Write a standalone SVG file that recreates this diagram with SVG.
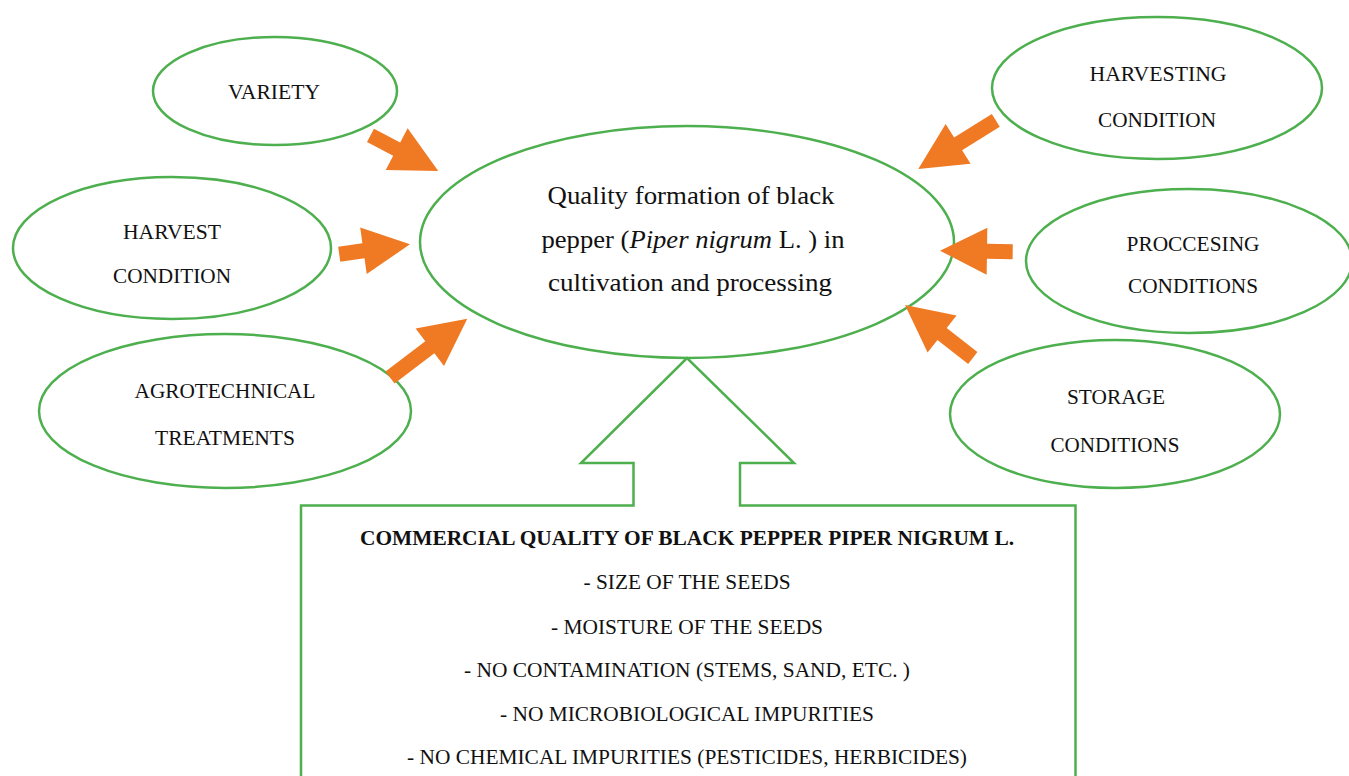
<svg xmlns="http://www.w3.org/2000/svg" width="1349" height="776" viewBox="0 0 1349 776" font-family="'Liberation Serif', 'Times New Roman', Times, serif">
<style>
.node{fill:#ffffff;stroke:#4DAF4E;stroke-width:2.5}
.lbl{font-family:'Liberation Serif', 'Times New Roman', Times, serif;font-size:21px;fill:#111111;text-anchor:middle}
.main{font-family:'Liberation Serif', 'Times New Roman', Times, serif;font-size:26px;fill:#111111;text-anchor:middle}
.bold{font-weight:bold}
.arr{fill:#F07A24;stroke:none}
</style>
<rect width="1349" height="776" fill="#ffffff"/>

<g id="variety">
<ellipse class="node" cx="275" cy="91" rx="122" ry="54"/>
<text class="lbl" x="274" y="99" textLength="92" lengthAdjust="spacingAndGlyphs">VARIETY</text>
</g>
<g id="harvest-condition">
<ellipse class="node" cx="172" cy="248" rx="159" ry="71"/>
<text class="lbl" x="172" y="239" textLength="98" lengthAdjust="spacingAndGlyphs">HARVEST</text>
<text class="lbl" x="172" y="283" textLength="118" lengthAdjust="spacingAndGlyphs">CONDITION</text>
</g>
<g id="agrotechnical">
<ellipse class="node" cx="225" cy="411" rx="186" ry="77"/>
<text class="lbl" x="225" y="398" textLength="181" lengthAdjust="spacingAndGlyphs">AGROTECHNICAL</text>
<text class="lbl" x="225" y="445" textLength="140" lengthAdjust="spacingAndGlyphs">TREATMENTS</text>
</g>
<g id="harvesting-condition">
<ellipse class="node" cx="1157" cy="88" rx="165" ry="71"/>
<text class="lbl" x="1158" y="81" textLength="137" lengthAdjust="spacingAndGlyphs">HARVESTING</text>
<text class="lbl" x="1157" y="127" textLength="118" lengthAdjust="spacingAndGlyphs">CONDITION</text>
</g>
<g id="processing-conditions">
<ellipse class="node" cx="1189" cy="261" rx="163" ry="72"/>
<text class="lbl" x="1193" y="251" textLength="133" lengthAdjust="spacingAndGlyphs">PROCCESING</text>
<text class="lbl" x="1193" y="293" textLength="130" lengthAdjust="spacingAndGlyphs">CONDITIONS</text>
</g>
<g id="storage-conditions">
<ellipse class="node" cx="1115" cy="414" rx="165" ry="74"/>
<text class="lbl" x="1116" y="404" textLength="98" lengthAdjust="spacingAndGlyphs">STORAGE</text>
<text class="lbl" x="1115" y="452" textLength="129" lengthAdjust="spacingAndGlyphs">CONDITIONS</text>
</g>
<g id="quality-formation">
<ellipse class="node" cx="687" cy="242" rx="267" ry="116"/>
<text class="main" x="691" y="204" textLength="287" lengthAdjust="spacingAndGlyphs">Quality formation of black</text>
<text class="main" x="693" y="248" textLength="303" lengthAdjust="spacingAndGlyphs">pepper (<tspan font-style="italic">Piper nigrum</tspan> L. ) in</text>
<text class="main" x="690" y="291" textLength="284" lengthAdjust="spacingAndGlyphs">cultivation and processing</text>
</g>
<g id="commercial-quality">
<path class="node" d="M301,780 L301,505.5 L633.5,505.5 L633.5,463 L581,463 L687,358 L794,463 L740,463 L740,505.5 L1075.5,505.5 L1075.5,780"/>
<text class="lbl bold" x="687" y="545" textLength="654" lengthAdjust="spacingAndGlyphs">COMMERCIAL QUALITY OF BLACK PEPPER PIPER NIGRUM L.</text>
<text class="lbl" x="687" y="589" textLength="207" lengthAdjust="spacingAndGlyphs">- SIZE OF THE SEEDS</text>
<text class="lbl" x="687" y="634" textLength="272" lengthAdjust="spacingAndGlyphs">- MOISTURE OF THE SEEDS</text>
<text class="lbl" x="687" y="677" textLength="446" lengthAdjust="spacingAndGlyphs">- NO CONTAMINATION (STEMS, SAND, ETC. )</text>
<text class="lbl" x="687" y="721" textLength="374" lengthAdjust="spacingAndGlyphs">- NO MICROBIOLOGICAL IMPURITIES</text>
<text class="lbl" x="687" y="764" textLength="560" lengthAdjust="spacingAndGlyphs">- NO CHEMICAL IMPURITIES (PESTICIDES, HERBICIDES)</text>
</g>

<g id="connectors">
<polygon class="arr" transform="translate(370.5,135.3) rotate(27.8)" points="0,-7.5 29.6,-7.5 29.6,-23.5 76.6,0 29.6,23.5 29.6,7.5 0,7.5"/>
<polygon class="arr" transform="translate(339.2,254.2) rotate(-8)" points="0,-7.5 24.5,-7.5 24.5,-23.5 71.5,0 24.5,23.5 24.5,7.5 0,7.5"/>
<polygon class="arr" transform="translate(390,377.5) rotate(-37.2)" points="0,-7.5 50,-7.5 50,-23.5 97,0 50,23.5 50,7.5 0,7.5"/>
<polygon class="arr" transform="translate(995.8,120.3) rotate(147.9)" points="0,-7.5 44.5,-7.5 44.5,-23.5 91.5,0 44.5,23.5 44.5,7.5 0,7.5"/>
<polygon class="arr" transform="translate(1012.7,251.7) rotate(180.8)" points="0,-7.5 25.7,-7.5 25.7,-23.5 72.7,0 25.7,23.5 25.7,7.5 0,7.5"/>
<polygon class="arr" transform="translate(972.8,358) rotate(218)" points="0,-7.5 39,-7.5 39,-23.5 86,0 39,23.5 39,7.5 0,7.5"/>
</g>
</svg>
